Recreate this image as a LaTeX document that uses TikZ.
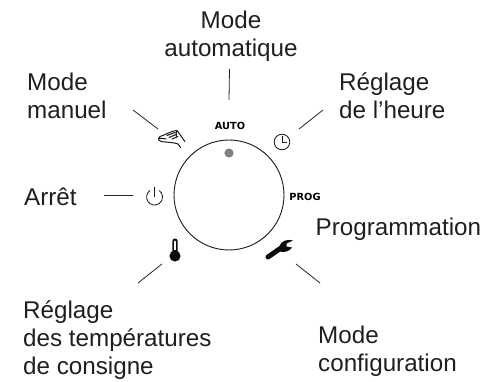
\documentclass[tikz,border=0pt]{standalone}
\usepackage{fontspec}
\setmainfont{Liberation Sans}
\newfontfamily\tagfont{DejaVu Sans Bold}
\begin{document}
\begin{tikzpicture}[x=1pt,y=-1pt,
  lab/.style={inner sep=0pt,align=left,anchor=north west,text=black!88,font=\fontsize{24.2}{28}\selectfont},
  labc/.style={lab,align=center,anchor=north},
  leader/.style={line width=0.8pt,black!85},
  dial/.style={line width=0.9pt,black!90},
  icon/.style={line width=0.8pt,black!90},
  tagtxt/.style={inner sep=0pt,font=\tagfont\fontsize{9.8}{10}\selectfont}]
\useasboundingbox (0,0) rectangle (496,382);
\fill[white] (0,0) rectangle (496,382);
% dial
\node[circle,draw,dial,minimum size=110pt,inner sep=0pt] (dial) at (229,195) {};
\fill[black!50] (229,153) circle (4.6);
\node[tagtxt] (auto) at (230,125.5) {AUTO};
\node[tagtxt] (prog) at (305,197) {PROG};
% labels
\node[labc] (lauto) at (231,11) {Mode\\automatique};
\node[lab] (lman) at (27,73) {Mode\\manuel};
\node[lab] (lheure) at (339,72) {Réglage\\de l’heure};
\node[lab] (larret) at (24,188) {Arrêt};
\node[lab] (lprog) at (315.5,218) {Programmation};
\node[lab] (ltemp) at (23,300) {Réglage\\des températures\\de consigne};
\node[lab] (lconf) at (318,326) {Mode\\configuration};
% leaders
\coordinate (a1) at (229.5,69); \coordinate (a2) at (229,100);
\coordinate (m1) at (133,110);  \coordinate (m2) at (158,129);
\coordinate (h1) at (323,110);  \coordinate (h2) at (299,129);
\coordinate (r1) at (104,195);  \coordinate (r2) at (133,195);
\coordinate (t1) at (162,264);  \coordinate (t2) at (138,283);
\coordinate (c1) at (296,264);  \coordinate (c2) at (320,283);
\foreach \p/\q in {a1/a2,m1/m2,h1/h2,r1/r2,t1/t2,c1/c2}
  \draw[leader] (\p) -- (\q);
% clock
\draw[icon] (282,142) circle (7.8);
\draw[icon] (282,136.5) -- (282,142.5) -- (287,142.5);
% power
\draw[icon] (150,190.5) arc[start angle=235,end angle=-55,radius=8];
\draw[icon] (154,187) -- (154,197);
% thermometer
\fill[black!95] (175,256) circle (5.6);
\fill[black!95] (172.3,241.2) arc[start angle=180,end angle=360,radius=2.7] -- (177.7,254) -- (172.3,254) -- cycle;
\fill[white] (174.1,241.5) arc[start angle=180,end angle=360,radius=.9] -- (175.9,250) -- (174.1,250) -- cycle;
% wrench
\draw[black!95,line width=5pt,line cap=round] (268,257) -- (281,248);
\fill[black!95] (279,250) -- (280,245) .. controls (282,240.5) and (288,239) .. (293,240.5)
  -- (286.5,243.5) -- (286.5,246.5) -- (292,247.5) .. controls (290,251) and (285,252.5) .. (281,252) -- cycle;
% hand
\draw[line width=1pt,black!90,line join=round,line cap=round]
 (164,135) .. controls (168,133) and (174,130.5) .. (177,130.5)
 .. controls (180,134) and (182,138) .. (185,141.5)
 (177,130.5) .. controls (176,132) and (176,134) .. (176.5,136)
 (164,135) .. controls (161,136) and (158,137) .. (158.5,138.5)
 .. controls (161,138) and (163,138.5) .. (166,139)
 (158.5,138.5) .. controls (158,141) and (162,142) .. (166,142)
 .. controls (171,142.5) and (176,143) .. (178,144) .. controls (179,145) and (180,146) .. (180.5,147.5)
 (167,135.5) -- (175,132.5) (169,137.5) -- (176,134.5) (172,139) -- (178,136.5);
\end{tikzpicture}
\end{document}
